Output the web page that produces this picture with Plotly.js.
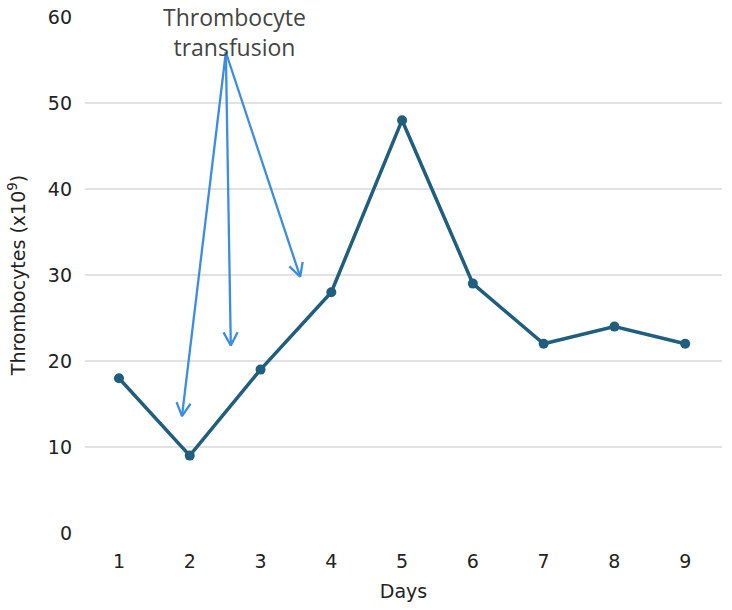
<!DOCTYPE html>
<html><head><meta charset="utf-8">
<script src="https://cdn.plot.ly/plotly-3.0.1.min.js"></script>
<style>html,body{margin:0;padding:0;background:#fff}#c{width:732px;height:610px}</style>
</head><body><div id="c"></div>
<script>
const days = [1, 2, 3, 4, 5, 6, 7, 8, 9];
const thrombocytes = [18, 9, 19, 28, 48, 29, 22, 24, 22];
const yTicks = [0, 10, 20, 30, 40, 50, 60];
const annotText = "Thrombocyte<br>transfusion";
// arrow tail (shared) and arrow heads in data units
const arrowTail = {x: 2.51, y: 55.9};
const arrowHeadX = [1.89, 2.58, 3.56];
const arrowHeadY = [13.6, 21.8, 29.8];

const xRange = [0.52, 9.52], yRange = [0, 60];
const W = 732, H = 610, M = {l: 85, r: 10, t: 17, b: 77};
const pxX = (W - M.l - M.r) / (xRange[1] - xRange[0]);
const pxY = (H - M.t - M.b) / (yRange[1] - yRange[0]);

// build arrow paths (shaft + open chevron head) from the tail/head arrays
const ax = [], ay = [];
arrowHeadX.forEach((hx, i) => {
  const hy = arrowHeadY[i];
  ax.push(arrowTail.x, hx, null); ay.push(arrowTail.y, hy, null);
  const dx = (arrowTail.x - hx) * pxX, dy = (arrowTail.y - hy) * pxY;
  const L = Math.hypot(dx, dy), ux = dx / L, uy = dy / L;
  const len = 15, ang = 28 * Math.PI / 180;
  const c = Math.cos(ang), s = Math.sin(ang);
  const w1 = [ux * c - uy * s, ux * s + uy * c], w2 = [ux * c + uy * s, -ux * s + uy * c];
  ax.push(hx + w1[0] * len / pxX, hx, hx + w2[0] * len / pxX, null);
  ay.push(hy + w1[1] * len / pxY, hy, hy + w2[1] * len / pxY, null);
});

const font = "DejaVu Sans, Verdana, sans-serif";

Plotly.newPlot('c', [{
  x: ax, y: ay, type: 'scatter', mode: 'lines', hoverinfo: 'skip',
  line: {color: '#3b8de2', width: 2.3}
}, {
  x: days, y: thrombocytes, type: 'scatter', mode: 'lines+markers',
  line: {color: '#1f5f7d', width: 3.5},
  marker: {color: '#1f5f7d', size: 10}
}], {
  width: W, height: H,
  margin: M,
  paper_bgcolor: '#fff', plot_bgcolor: '#fff',
  showlegend: false,
  font: {family: font, size: 19, color: '#222'},
  xaxis: {
    range: xRange, tickvals: days, ticktext: days.map(String),
    showgrid: false, zeroline: false, showline: false, ticks: '',
    ticklabelstandoff: 15,
    title: {text: 'Days', font: {family: font, size: 19, color: '#222'}, standoff: 13}
  },
  yaxis: {
    range: yRange, tickvals: yTicks, showgrid: true, gridcolor: '#e2e2e2', gridwidth: 2,
    zeroline: false, showline: false, ticks: '', ticklabelstandoff: 12,
    title: {text: 'Thrombocytes (x10<sup>9</sup>)', font: {family: font, size: 19, color: '#222'}, standoff: 17}
  },
  annotations: [{
    x: 2.63, y: 58.3, xref: 'x', yref: 'y', text: annotText, showarrow: false,
    font: {family: "Open Sans, sans-serif", size: 23, color: '#444'}, align: 'center'
  }]
}, {displayModeBar: false, staticPlot: true});
</script></body></html>
